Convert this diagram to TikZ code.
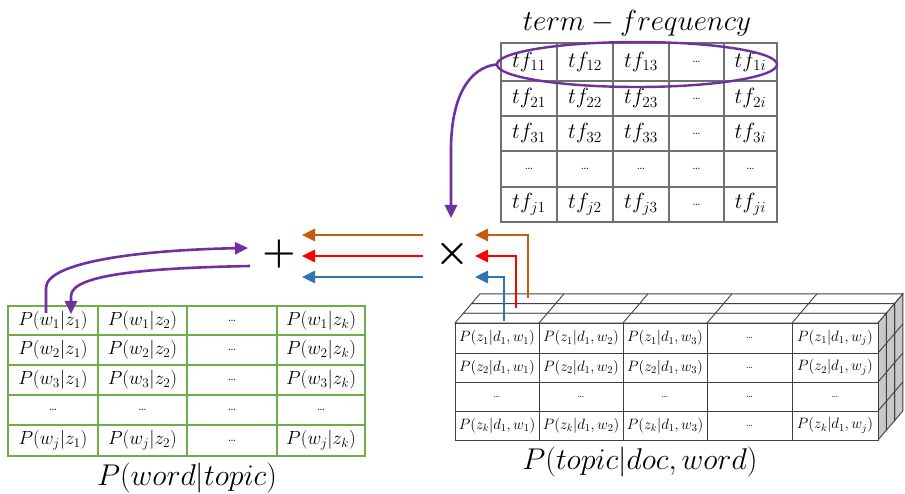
\RequirePackage{fix-cm}
\documentclass[tikz,border=0pt]{standalone}
\usepackage{amsmath}
\usetikzlibrary{arrows.meta,shapes.geometric,calc}
\definecolor{cpurple}{HTML}{7030A0}
\definecolor{corange}{HTML}{C55A11}
\definecolor{cred}{HTML}{FF0000}
\definecolor{cblue}{HTML}{2E75B6}
\definecolor{cgreen}{HTML}{70AD47}
\definecolor{cgridgray}{HTML}{707070}
\definecolor{cboxline}{HTML}{404040}
\definecolor{cside}{HTML}{C8C8C8}
\tikzset{
 tfline/.style={draw=cgridgray, line width=1.4pt},
 tfcell/.style={font=\fontsize{22}{26}\selectfont, inner sep=0pt},
 gline/.style={draw=cgreen, line width=2pt},
 gcell/.style={font=\fontsize{19}{22}\selectfont, inner sep=0pt},
 bline/.style={draw=cboxline, line width=0.9pt},
 bcell/.style={font=\fontsize{15}{18}\selectfont, inner sep=0pt},
 arr/.style={line width=2.6pt, -{Triangle[length=13pt,width=12pt]}},
 lbl/.style={font=\fontsize{30}{34}\selectfont, inner sep=0pt},
 opsym/.style={font=\fontsize{38}{42}\selectfont, inner sep=0pt},
}
\newcommand{\tfdots}{{\fontsize{15}{16}\selectfont\ldots}}
\newcommand{\gdots}{{\fontsize{13}{14}\selectfont\ldots}}
\newcommand{\bdots}{{\fontsize{11}{12}\selectfont\ldots}}
\begin{document}
\begin{tikzpicture}[x=1pt,y=-1pt]
\useasboundingbox (0,0) rectangle (905,494);
\clip (0,0) rectangle (905,494);
\fill[white] (0,0) rectangle (905,494);

% ---------- term-frequency table ----------
\node[lbl, font=\fontsize{29}{33}\selectfont] (tftitle) at (637,23) {$term-frequency$};
\draw[tfline] (501,43) rectangle (777,222);
\foreach \x in {557,613,669,724} \draw[tfline] (\x,43) -- (\x,222);
\foreach \y in {81,116,151,187} \draw[tfline] (501,\y) -- (777,\y);
\foreach \x/\t [count=\c] in {529/$tf_{11}$,585/$tf_{12}$,641/$tf_{13}$,696.5/\tfdots,750.5/$tf_{1i}$}
  \node[tfcell] (tf-1-\c) at (\x,62) {\t};
\foreach \x/\t [count=\c] in {529/$tf_{21}$,585/$tf_{22}$,641/$tf_{23}$,696.5/\tfdots,750.5/$tf_{2i}$}
  \node[tfcell] (tf-2-\c) at (\x,98.5) {\t};
\foreach \x/\t [count=\c] in {529/$tf_{31}$,585/$tf_{32}$,641/$tf_{33}$,696.5/\tfdots,750.5/$tf_{3i}$}
  \node[tfcell] (tf-3-\c) at (\x,133.5) {\t};
\foreach \x/\t [count=\c] in {529/\tfdots,585/\tfdots,641/\tfdots,696.5/\tfdots,750.5/\tfdots}
  \node[tfcell] (tf-4-\c) at (\x,169) {\t};
\foreach \x/\t [count=\c] in {529/$tf_{j1}$,585/$tf_{j2}$,641/$tf_{j3}$,696.5/\tfdots,750.5/$tf_{ji}$}
  \node[tfcell] (tf-5-\c) at (\x,204.5) {\t};
\node[ellipse, draw=cpurple, line width=2.4pt, minimum width=280pt, minimum height=45pt, inner sep=0pt] (ell) at (637,64.5) {};

% ---------- operators ----------
\node[opsym] (plus) at (279,254) {$\boldsymbol{+}$};
\node[opsym] (times) at (452,254) {$\boldsymbol{\times}$};

% ---------- green table P(word|topic) ----------
\draw[gline] (8,306) rectangle (365,456);
\foreach \x in {98,187,277} \draw[gline] (\x,306) -- (\x,456);
\foreach \y in {335,365,395,425} \draw[gline] (8,\y) -- (365,\y);
\foreach \y/\w [count=\r] in {320.5/w_1,350/w_2,380/w_3,440.5/w_j}{
  \node[gcell] (g-\r-1) at (53,\y) {$P(\w|z_1)$};
  \node[gcell] (g-\r-2) at (142.5,\y) {$P(\w|z_2)$};
  \node[gcell] (g-\r-3) at (232,\y) {\gdots};
  \node[gcell] (g-\r-4) at (321,\y) {$P(\w|z_k)$};
}
\foreach \x [count=\c] in {53,142.5,232,321} \node[gcell] (gd-\c) at (\x,410) {\gdots};
\node[lbl] (glabel) at (187,478) {$P(word|topic)$};

% ---------- 3D box P(topic|doc,word) ----------
\foreach \k in {2,1,0}{
 \begin{scope}[shift={({8.3*\k},{-9.7*\k})}]
  \filldraw[bline, fill=white] (455,323) -- (878,323) -- (886.3,313.3) -- (463.3,313.3) -- cycle;
  \foreach \x in {539,623,707,792} \draw[bline] (\x,323) -- ({\x+8.3},313.3);
  \filldraw[bline, fill=cside] (878,323) -- (878,440) -- (886.3,430.3) -- (886.3,313.3) -- cycle;
  \foreach \y in {353,382,411} \draw[bline] (878,\y) -- (886.3,{\y-9.7});
  \filldraw[bline, fill=white] (455,323) rectangle (878,440);
  \foreach \x in {539,623,707,792} \draw[bline] (\x,323) -- (\x,440);
  \foreach \y in {353,382,411} \draw[bline] (455,\y) -- (878,\y);
 \end{scope}
}
\foreach \y/\z [count=\r] in {338/z_1,367.5/z_2,425.5/z_k}{
  \node[bcell] (b-\r-1) at (497,\y) {$P(\z|d_1,w_1)$};
  \node[bcell] (b-\r-2) at (581,\y) {$P(\z|d_1,w_2)$};
  \node[bcell] (b-\r-3) at (665,\y) {$P(\z|d_1,w_3)$};
  \node[bcell] (b-\r-4) at (749.5,\y) {\bdots};
  \node[bcell] (b-\r-5) at (835,\y) {$P(\z|d_1,w_j)$};
}
\foreach \x [count=\c] in {497,581,665,749.5,835} \node[bcell] (bd-\c) at (\x,396.5) {\bdots};
\node[lbl] (blabel) at (640,462) {$P(topic|doc,word)$};

% ---------- connector end points ----------
\coordinate (tfend) at (451,218);
\coordinate (oS) at (528,298);  \coordinate (oE) at (475,235);
\coordinate (rS) at (516,308);  \coordinate (rE) at (475,256);
\coordinate (bS) at (504,321);  \coordinate (bE) at (475,277);
\coordinate (oL1) at (423,235); \coordinate (oL2) at (302,235);
\coordinate (rL1) at (423,256); \coordinate (rL2) at (302,256);
\coordinate (bL1) at (423,277); \coordinate (bL2) at (302,277);
\coordinate (pUpS) at (46,313); \coordinate (pUpE) at (248,248);
\coordinate (pDnS) at (250,266); \coordinate (pDnE) at (71,314);

% ---------- connectors ----------
\draw[arr, cpurple] (ell.west) .. controls (470,68) and (451,95) .. (451,150) -- (tfend);
\draw[arr, corange] (oS) |- (oE);
\draw[arr, cred] (rS) |- (rE);
\draw[arr, cblue] (bS) |- (bE);
\draw[arr, corange] (oL1) -- (oL2);
\draw[arr, cred] (rL1) -- (rL2);
\draw[arr, cblue] (bL1) -- (bL2);
\draw[arr, cpurple] (pUpS) -- (46,288) .. controls (46,262) and (140,250) .. (pUpE);
\draw[arr, cpurple] (pDnS) .. controls (150,268) and (71,274) .. (71,296) -- (pDnE);
\end{tikzpicture}
\end{document}
